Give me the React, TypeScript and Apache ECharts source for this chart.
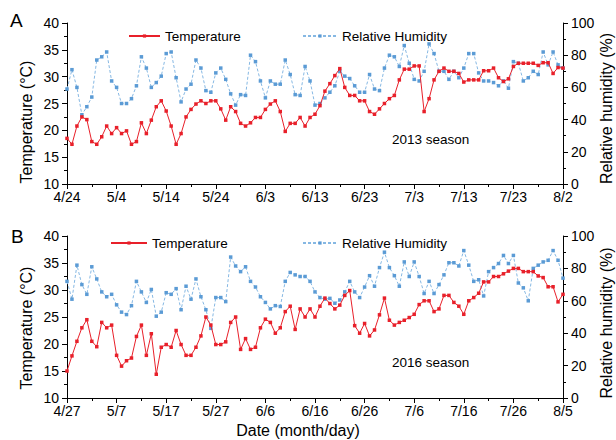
import React, { useEffect, useRef } from "react";
import * as echarts from "echarts";

const datesA = ["4/24", "5/4", "5/14", "5/24", "6/3", "6/13", "6/23", "7/3", "7/13", "7/23", "8/2"];
const datesB = ["4/27", "5/7", "5/17", "5/27", "6/6", "6/16", "6/26", "7/6", "7/16", "7/26", "8/5"];

const tempA = [
  18.5, 17.4, 20.8, 22.5, 22.0, 17.9, 17.4, 18.8, 20.8, 19.4,
  20.5, 19.4, 19.9, 17.4, 17.9, 21.4, 19.4, 21.9, 24.4, 25.5,
  23.6, 20.8, 17.4, 19.4, 22.5, 23.9, 24.9, 25.5, 25.0, 25.5,
  25.5, 24.0, 21.9, 24.4, 23.5, 21.3, 20.8, 21.4, 22.4, 22.4,
  23.9, 24.9, 25.5, 23.5, 19.8, 21.3, 21.3, 22.4, 20.8, 22.4,
  23.0, 24.6, 27.3, 28.7, 30.2, 31.5, 28.0, 26.5, 26.5, 25.5,
  25.5, 23.5, 23.0, 24.0, 25.0, 25.9, 26.5, 29.4, 31.4, 31.4,
  32.0, 32.0, 23.5, 25.9, 29.4, 31.0, 31.6, 31.0, 31.0, 30.6,
  29.0, 29.4, 29.4, 29.4, 31.1, 31.1, 31.6, 29.8, 29.1, 29.6,
  31.9, 32.5, 32.5, 32.5, 32.5, 32.1, 32.6, 32.6, 30.6, 31.7,
  31.6,
];

const humA = [
  59, 71, 60, 43, 48, 54, 77, 79, 82, 64,
  60, 50, 50, 53, 61, 79, 72, 60, 63, 67,
  81, 82, 66, 51, 59, 62, 77, 72, 58, 57,
  69, 72, 65, 56, 49, 55.5, 55, 80, 76, 64,
  53.5, 64, 62, 62, 77, 68, 55.5, 55, 73, 64,
  49, 50, 53.5, 57, 61, 70, 67, 65.5, 61, 57,
  57, 68, 59, 58, 72, 80, 79, 73, 86, 75,
  65, 64, 70, 87, 81, 70, 70, 65, 70, 66,
  72, 81, 81, 69, 64, 64, 63, 61, 64, 59.5,
  76, 75, 64, 66, 70, 68, 82, 74, 82, 74,
  72,
];

const tempB = [
  15.0, 17.8, 20.5, 23.0, 24.5, 20.5, 19.5, 24.0, 23.0, 23.5,
  17.9, 15.9, 16.9, 17.4, 21.4, 23.5, 17.9, 21.9, 14.4, 19.4,
  19.9, 19.4, 22.5, 19.9, 17.9, 17.9, 19.4, 21.5, 25.0, 23.5,
  19.9, 19.9, 20.4, 24.0, 25.0, 19.0, 21.0, 19.0, 19.4, 23.0,
  24.6, 24.0, 22.0, 23.0, 26.0, 27.0, 22.7, 26.5, 25.0, 26.5,
  25.0, 27.0, 28.5, 27.5, 26.5, 27.2, 29.0, 29.9, 23.4, 22.0,
  23.8, 21.5, 22.6, 25.4, 28.5, 24.4, 23.5, 24.0, 24.4, 24.9,
  25.5, 27.3, 28.0, 28.0, 26.0, 26.5, 29.0, 29.0, 27.7, 27.0,
  25.5, 28.0, 28.6, 29.4, 31.5, 31.5, 32.5, 32.5, 33.0, 33.5,
  34.0, 34.0, 33.4, 33.4, 33.4, 32.6, 32.3, 30.6, 30.6, 27.8,
  29.2,
];

const humB = [
  72, 61, 82, 70, 64, 81, 73.5, 65.5, 62.5, 64,
  57.5, 53, 51.5, 57, 72, 65.5, 59, 67, 50.5, 53,
  65, 64, 67.5, 54.5, 69, 61, 73.5, 62.5, 54.5, 43,
  62, 62, 59.5, 87, 81.5, 78, 81, 72, 68.5, 62.5,
  59, 55, 57, 56.5, 72, 77.5, 76, 75, 75, 72,
  65.5, 62, 61, 61.5, 58.5, 60.5, 65.5, 72, 65.5, 62,
  68.5, 75.5, 69, 80.5, 90, 80.5, 75.5, 69, 84, 75,
  84, 75, 64.5, 72, 64.5, 70, 76, 83.5, 83.5, 81.5,
  91, 82, 72, 73, 63, 78, 80.5, 83, 88, 83,
  88, 71, 68, 60, 80, 82, 84, 85, 91, 85,
  74,
];

const FONT = "'Liberation Sans', Arial, Helvetica, sans-serif";
const RED = "#e8202a";
const BLUE = "#5b9bd5";
const BLUE_LINE = "#86b8e3";

export default function App() {
  const ref = useRef<HTMLDivElement>(null);
  useEffect(() => {
    document.body.style.margin = "0";
    const chart = echarts.init(ref.current!, null, { renderer: "svg" });
    const lineStyle = { color: "#000", width: 1 };
    const mkX = (gridIndex: number, dates: string[]) => ({
      type: "value",
      gridIndex,
      min: 0,
      max: 100,
      interval: 10,
      axisLine: { show: true, onZero: false, lineStyle },
      axisTick: { show: true, inside: false, length: 5, lineStyle },
      minorTick: { show: true, splitNumber: 2, length: 3, lineStyle },
      splitLine: { show: false },
      minorSplitLine: { show: false },
      axisLabel: {
        formatter: (v: number) => dates[Math.round(v / 10)] ?? "",
        fontSize: 14,
        color: "#000",
        margin: 6,
        fontFamily: FONT,
        showMinLabel: true,
        showMaxLabel: true,
      },
    });
    const mkY = (gridIndex: number, position: string, min: number, max: number, interval: number) => ({
      type: "value",
      gridIndex,
      position,
      min,
      max,
      interval,
      axisLine: { show: true, onZero: false, lineStyle },
      axisTick: { show: true, inside: false, length: 5, lineStyle },
      minorTick: { show: true, splitNumber: 2, length: 3, lineStyle },
      splitLine: { show: false },
      minorSplitLine: { show: false },
      axisLabel: { fontSize: 14, color: "#000", margin: 8, fontFamily: FONT },
    });
    const hum = (data: number[], xi: number, yi: number) => ({
      type: "line",
      name: "Relative Humidity",
      xAxisIndex: xi,
      yAxisIndex: yi,
      data: data.map((v, i) => [i, v]),
      symbol: "rect",
      symbolSize: 3.5,
      itemStyle: { color: BLUE },
      lineStyle: { color: BLUE_LINE, width: 1, type: [3, 2] },
      z: 2,
    });
    const temp = (data: number[], xi: number, yi: number) => ({
      type: "line",
      name: "Temperature",
      xAxisIndex: xi,
      yAxisIndex: yi,
      data: data.map((v, i) => [i, v]),
      symbol: "rect",
      symbolSize: 3.5,
      itemStyle: { color: RED },
      lineStyle: { color: RED, width: 1 },
      z: 3,
    });
    const legendText = { fontSize: 13.5, color: "#000", fontFamily: FONT };
    const txt = (text: string, x: number, y: number, size: number, extra: any = {}) => ({
      type: "text",
      x,
      y,
      ...extra,
      style: {
        text,
        fontSize: size,
        fontFamily: FONT,
        fill: "#000",
        align: extra.align ?? "left",
        verticalAlign: "middle",
      },
    });
    const leg = (name: string, left: number, top: number, w: number) => ({
      data: [name],
      left,
      top,
      padding: 0,
      itemWidth: w,
      itemHeight: 4,
      textStyle: legendText,
      selectedMode: false,
    });
    const option: any = {
      animation: false,
      backgroundColor: "#fff",
      grid: [
        { left: 67, right: 53, top: 23, height: 161, containLabel: false, outerBoundsMode: "none" },
        { left: 67, right: 53, top: 236, height: 162, containLabel: false, outerBoundsMode: "none" },
      ],
      xAxis: [mkX(0, datesA), mkX(1, datesB)],
      yAxis: [
        mkY(0, "left", 10, 40, 5),
        mkY(0, "right", 0, 100, 20),
        mkY(1, "left", 10, 40, 5),
        mkY(1, "right", 0, 100, 20),
      ],
      legend: [
        leg("Temperature", 128, 29, 31),
        leg("Relative Humidity", 302, 29, 34),
        leg("Temperature", 110, 236, 36),
        leg("Relative Humidity", 302, 236, 34),
      ],
      series: [hum(humA, 0, 1), temp(tempA, 0, 0), hum(humB, 1, 3), temp(tempB, 1, 2)],
      graphic: [
        txt("A", 10, 20.5, 19),
        txt("B", 11, 236, 19),
        txt("2013 season", 392, 139, 13.5),
        txt("2016 season", 392, 362, 13.5),
        txt("Temperature (°C)", 26.5, 122, 16, { rotation: Math.PI / 2, align: "center" }),
        txt("Temperature (°C)", 26.5, 328, 16, { rotation: Math.PI / 2, align: "center" }),
        txt("Relative humidity (%)", 606, 108.5, 16, { rotation: Math.PI / 2, align: "center" }),
        txt("Relative humidity (%)", 606, 323, 16, { rotation: Math.PI / 2, align: "center" }),
        txt("Date (month/day)", 298, 430, 16, { align: "center" }),
      ],
    };
    chart.setOption(option);
    return () => chart.dispose();
  }, []);
  return <div ref={ref} style={{ width: 616, height: 440, position: "absolute", left: 0, top: 0 }} />;
}
